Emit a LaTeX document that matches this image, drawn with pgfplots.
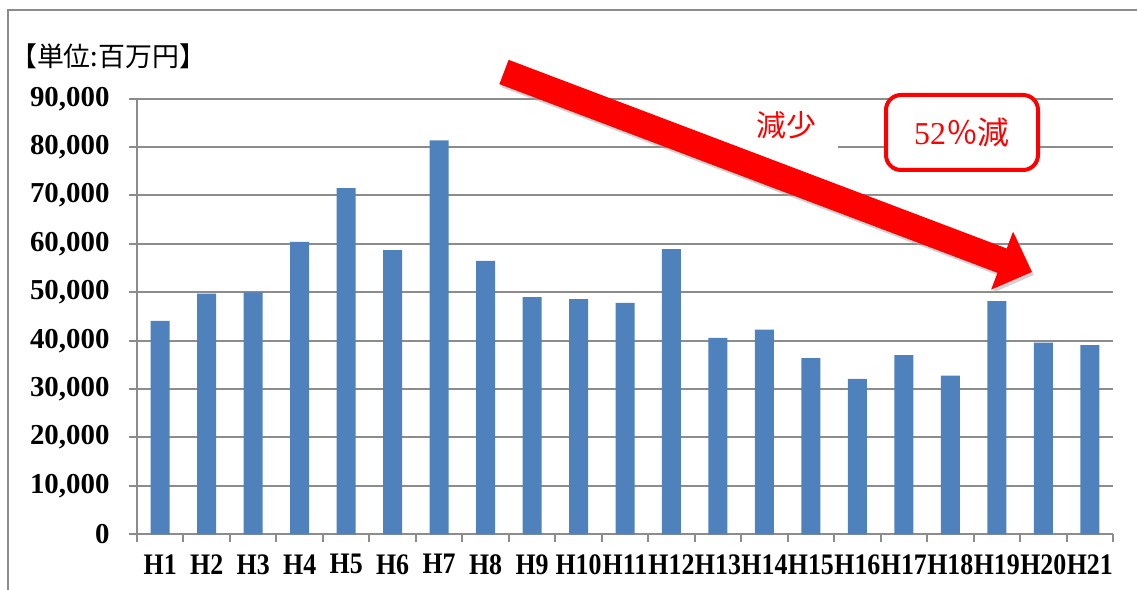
\documentclass[border=0pt]{standalone}
\usepackage{fontspec}
\setmainfont{Liberation Serif}
\newfontfamily\cjk{Noto Sans CJK JP}
\usepackage{pgfplots}
\pgfplotsset{compat=1.18}
\usetikzlibrary{arrows.meta}
\definecolor{barblue}{HTML}{4F81BD}
\definecolor{gridgray}{HTML}{8C8C8C}
\begin{document}
\begin{tikzpicture}[x=1bp,y=1bp]
\useasboundingbox (0,0) rectangle (1137,590);
% outer frame (only top and left edges are visible)
\draw[gridgray, line width=2bp] (8,0) -- (8,580) -- (1137,580);
\begin{axis}[
    at={(137bp,55.7bp)}, anchor=south west,
    scale only axis, width=976bp, height=435.6bp,
    xmin=-0.5, xmax=20.5, ymin=0, ymax=90000,
    axis lines=left,
    axis line style={gridgray, line width=2bp, -},
    tick style={gridgray, line width=2bp},
    tick align=outside, major tick length=8bp,
    ymajorgrids, grid style={gridgray, line width=2bp},
    ytick={0,10000,...,90000},
    scaled y ticks=false,
    yticklabel style={font=\fontsize{29}{32}\selectfont\bfseries, xshift=-16bp,
        /pgf/number format/.cd, fixed, 1000 sep={,}, assume math mode=true},
    xtick={-0.5,0.5,...,20.5},
    xticklabels={},
    extra x ticks={0,...,20},
    extra x tick labels={H1,H2,H3,H4,H5,H6,H7,H8,H9,H10,H11,H12,H13,H14,H15,H16,H17,H18,H19,H20,H21},
    extra x tick style={major tick length=0pt, grid=none,
        xticklabel style={font=\fontsize{26}{30}\selectfont\bfseries, yscale=1.15,
            yshift=-14bp, inner xsep=0pt}},
    ybar, bar width=19bp,
]
\addplot[fill=barblue, draw=none] coordinates {
    (0,44100) (1,49700) (2,50000) (3,60400) (4,71500) (5,58700) (6,81400)
    (7,56500) (8,49000) (9,48600) (10,47800) (11,58900) (12,40600) (13,42300)
    (14,36400) (15,32100) (16,37000) (17,32800) (18,48200) (19,39600) (20,39100)
};
\end{axis}
% unit label
\node[anchor=west, inner sep=0pt, font=\cjk\fontsize{27}{30}\selectfont] at (10,534) {【単位:百万円】};
% annotations
\node[fill=white, minimum width=103bp, minimum height=46bp, inner sep=0pt,
      text=red, font=\cjk\fontsize{30}{32}\selectfont] at (786.5,464.5) {減少};
\draw[black!35, opacity=0.5, line width=26bp, -{Triangle[length=32bp, width=60bp]}]
    (506,515) -- (1034,315);
\draw[red, line width=26bp, -{Triangle[length=32bp, width=60bp]}]
    (504,518) -- (1032,318);
\draw[red, line width=4bp, rounded corners=15bp, fill=white] (886,420) rectangle (1038,495);
\node[text=red, font=\fontsize{32}{34}\selectfont] at (962,457.5) {52{\cjk ％減}};
\end{tikzpicture}
\end{document}
